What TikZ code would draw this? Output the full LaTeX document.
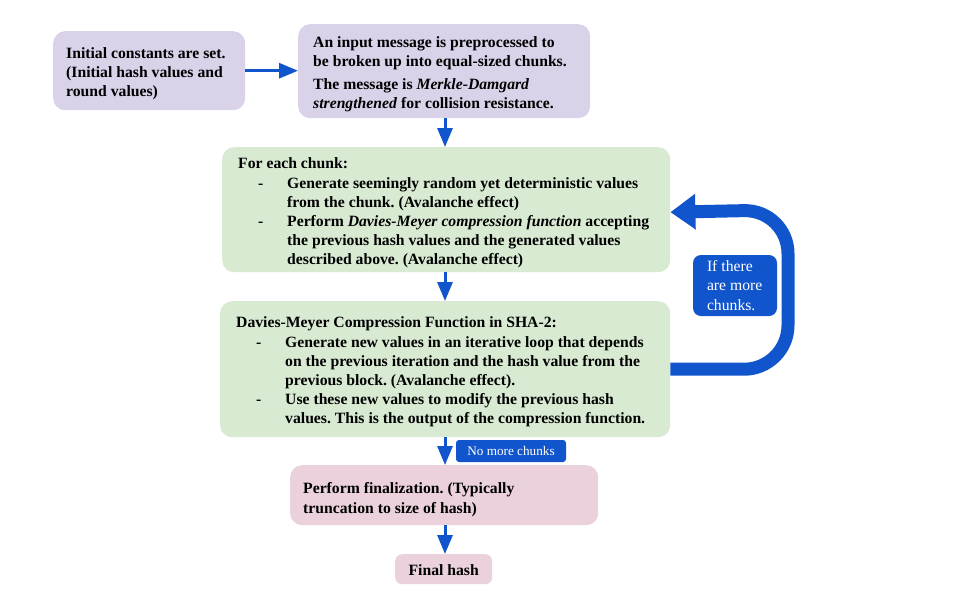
\documentclass[tikz,border=0pt]{standalone}
\usepackage{fontspec}
\setmainfont{LiberationSerif}[Extension=.ttf, UprightFont=*-Regular, BoldFont=*-Bold, ItalicFont=*-Italic, BoldItalicFont=*-BoldItalic]
\usetikzlibrary{arrows.meta}
\definecolor{lav}{HTML}{D9D2E9}
\definecolor{mint}{HTML}{D9EAD3}
\definecolor{rose}{HTML}{EAD1DC}
\definecolor{cblue}{HTML}{1155CC}
\newcommand\dashitem{\hspace*{20pt}\makebox[29pt][l]{-}}
\newcommand\contline{\hspace*{49pt}}
\frenchspacing
\begin{document}
\frenchspacing
\begin{tikzpicture}[x=1pt,y=-1pt,
  box/.style={rounded corners=12pt, draw=none, inner sep=0pt, anchor=north west},
  body/.style={font=\frenchspacing\bfseries\fontsize{15.7}{19.2}\selectfont, align=left, inner sep=0pt, anchor=west, yshift=-3pt},
  flow/.style={draw=cblue, line width=3pt, -{Triangle[length=19pt,width=15pt]}},
  tag/.style={fill=cblue, text=white, inner sep=0pt, align=left}]
\useasboundingbox (0,0) rectangle (960,600);
\fill[white] (0,0) rectangle (960,600);
\coordinate (col) at (445,0);
\coordinate (loopx) at (788,0);

\node[box, fill=lav, minimum width=192pt, minimum height=79pt] (b1) at (53,31) {};
\node[body] (t1) at ([xshift=13pt]b1.west) {Initial constants are set.\\(Initial hash values and\\round values)};

\node[box, fill=lav, minimum width=292pt, minimum height=94pt] (b2) at (298,24) {};
\node[body] (t2) at ([xshift=15pt]b2.west) {An input message is preprocessed to\\be broken up into equal-sized chunks.\\[4pt]The message is \textit{Merkle-Damgard}\\\textit{strengthened} for collision resistance.};

\node[box, fill=mint, minimum width=448pt, minimum height=125pt] (b3) at (222,147) {};
\node[body] (t3) at ([xshift=16pt,yshift=-0.5pt]b3.west) {For each chunk:\\
\dashitem Generate seemingly random yet deterministic values\\
\contline from the chunk. (Avalanche effect)\\
\dashitem Perform \textit{Davies-Meyer compression function} accepting\\
\contline the previous hash values and the generated values\\
\contline described above. (Avalanche effect)};

\node[box, fill=mint, minimum width=450pt, minimum height=136pt] (b4) at (220,301) {};
\node[body] (t4) at ([xshift=16pt]b4.west) {Davies-Meyer Compression Function in SHA-2:\\
\dashitem Generate new values in an iterative loop that depends\\
\contline on the previous iteration and the hash value from the\\
\contline previous block. (Avalanche effect).\\
\dashitem Use these new values to modify the previous hash\\
\contline values. This is the output of the compression function.};

\node[box, fill=rose, minimum width=308pt, minimum height=60pt] (b5) at (290,465) {};
\node[body] (t5) at ([xshift=13pt,yshift=-1.5pt]b5.west) {Perform finalization. (Typically\\truncation to size of hash)};

\node[box, fill=rose, minimum width=97pt, minimum height=30pt, rounded corners=7pt] (b6) at (395,554) {};
\node[body, anchor=center] (t6) at ([yshift=2pt]b6.center) {Final hash};

\node[tag, minimum width=84pt, minimum height=61pt, rounded corners=8pt, font=\frenchspacing\fontsize{15.7}{19.2}\selectfont] (more) at (735,285.5) {\raisebox{-1.5pt}{\parbox{56pt}{If there\\are more\\chunks.}}};
\node[tag, minimum width=110pt, minimum height=22pt, rounded corners=3pt, font=\fontsize{13.2}{15}\selectfont] (nomore) at (511,451) {No more chunks};

\draw[flow] (b1.east) -- (b2.west |- b1.east);
\draw[flow] (b2.south -| col) -- (b3.north -| col);
\draw[flow] (b3.south -| col) -- (b4.north -| col);
\draw[flow] (b4.south -| col) -- (b5.north -| col);
\draw[flow] (b5.south -| col) -- (b6.north -| col);
\draw[draw=cblue, line width=13pt, rounded corners=44pt, -{Triangle[length=25pt,width=34pt]}]
  (b4.east) -| (loopx |- b3.east) -- ([yshift=-2.5pt]b3.east);
\end{tikzpicture}
\end{document}
